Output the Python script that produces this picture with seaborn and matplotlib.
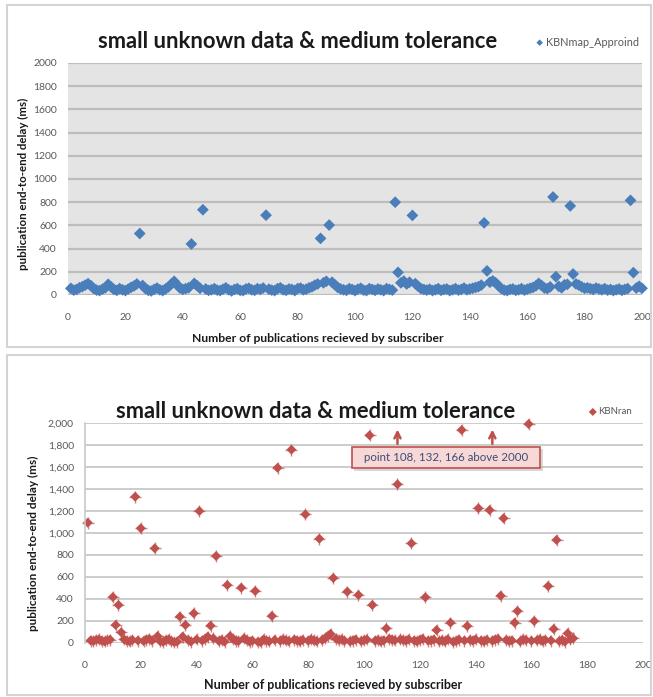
import numpy as np
import pandas as pd
import seaborn as sns
import matplotlib.pyplot as plt
from matplotlib.patches import Rectangle
from matplotlib.ticker import FuncFormatter


chart_title = "small unknown data & medium tolerance"
x_label = "Number of publications recieved by subscriber"
y_label = "publication end-to-end delay (ms)"

# KBNmap_Approind, publications 1..200
approind_delay = [
    57, 42, 48, 63, 72, 85, 98, 80, 55, 42,
    38, 50, 62, 92, 70, 48, 40, 55, 45, 38,
    52, 66, 78, 95, 530, 82, 55, 40, 35, 48,
    60, 45, 38, 52, 70, 95, 118, 88, 60, 48,
    55, 62, 440, 100, 80, 58, 735, 52, 40, 45,
    55, 42, 38, 50, 62, 45, 35, 48, 55, 40,
    38, 52, 58, 45, 40, 55, 48, 60, 688, 50,
    42, 38, 55, 62, 45, 40, 52, 48, 38, 55,
    60, 45, 50, 62, 70, 85, 95, 488, 105, 118,
    603, 110, 88, 65, 52, 45, 40, 55, 48, 38,
    50, 58, 42, 38, 55, 48, 40, 52, 45, 38,
    55, 48, 42, 800, 195, 105, 120, 95, 110, 686,
    98, 75, 55, 48, 42, 50, 38, 45, 55, 40,
    48, 52, 38, 45, 55, 42, 48, 60, 45, 52,
    58, 65, 72, 85, 622, 208, 110, 122, 105, 80,
    55, 42, 38, 48, 52, 40, 45, 55, 42, 50,
    58, 65, 78, 100, 82, 60, 55, 70, 845, 158,
    75, 62, 88, 92, 768, 181, 95, 85, 70, 58,
    62, 55, 48, 60, 52, 45, 55, 42, 48, 38,
    45, 52, 40, 48, 55, 816, 193, 60, 75, 58,
]
approind_x = list(range(1, len(approind_delay) + 1))

# KBNran, publications 1..175
ran_delay = [
    1091, 20, 15, 25, 30, 18, 12, 22, 28, 415,
    161, 343, 94, 30, 18, 12, 25, 1327, 20, 1040,
    15, 28, 35, 20, 858, 60, 12, 8, 22, 30,
    15, 5, 10, 237, 55, 161, 25, 10, 267, 30,
    1197, 20, 35, 55, 155, 40, 788, 15, 25, 10,
    524, 60, 35, 20, 15, 500, 40, 25, 10, 18,
    470, 8, 5, 30, 20, 12, 243, 25, 1590, 18,
    30, 22, 15, 1755, 28, 20, 12, 25, 1167, 18,
    30, 22, 15, 945, 25, 40, 60, 80, 588, 35,
    25, 30, 18, 464, 12, 20, 28, 434, 15, 22,
    30, 1885, 343, 18, 25, 12, 20, 130, 35, 28,
    22, 1440, 30, 25, 18, 30, 903, 20, 12, 25,
    35, 413, 18, 20, 28, 115, 15, 22, 12, 30,
    182, 8, 15, 28, 1934, 20, 152, 25, 18, 30,
    1222, 20, 12, 25, 1206, 18, 28, 35, 427, 1131,
    25, 15, 20, 182, 288, 12, 30, 25, 1988, 18,
    197, 22, 30, 15, 25, 515, 20, 125, 934, 15,
    25, 10, 85, 30, 40,
]
ran_x = list(range(1, len(ran_delay) + 1))

x_ticks = list(range(0, 201, 20))
y_ticks = list(range(0, 2001, 200))

note_text = "point 108, 132, 166 above 2000"
note_arrow_x = [112, 146]

blue = "#4a7ebb"
red = "#c0504d"
tick_grey = "#595959"

sns.set_theme(style="white")
plt.rcParams["font.family"] = ["Lato", "DejaVu Sans"]

W, H = 653, 697
fig = plt.figure(figsize=(W / 100, H / 100), dpi=100)


def fx(px):
    return px / W


def fy(py):
    return 1 - py / H


# chart area borders
for top, bottom in [(5, 347), (355, 695)]:
    fig.add_artist(Rectangle((fx(7), fy(bottom)), fx(651 - 7), (bottom - top) / H,
                             transform=fig.transFigure, fill=False,
                             ec="#d4d4d4", lw=1.5))

# ---------- top chart ----------
ax1 = fig.add_axes([fx(68), fy(295), fx(642 - 68), (295 - 63) / H])
ax1.set_facecolor("#e4e4e4")
ax1.set_axisbelow(True)
ax1.grid(axis="y", color="#bdbdbd", lw=1.6)
ax1.grid(axis="x", visible=False)
for s in ax1.spines.values():
    s.set_visible(False)

sns.scatterplot(x=approind_x, y=approind_delay, marker="D", s=36, color=blue,
                edgecolor="none", ax=ax1, label="KBNmap_Approind", clip_on=False)

ax1.set_xlim(0, 200)
ax1.set_ylim(0, 2000)
ax1.set_xticks(x_ticks)
ax1.set_yticks(y_ticks)
ax1.tick_params(axis="x", length=0, pad=13, labelsize=7.5, labelcolor=tick_grey)
ax1.tick_params(axis="y", length=0, pad=8, labelsize=7.5, labelcolor=tick_grey)
ax1.set_xlabel(x_label, fontsize=8.7, fontweight="bold", color="#1a1a1a")
ax1.set_ylabel(y_label, fontsize=8.3, fontweight="bold", color="#1a1a1a")
ax1.xaxis.set_label_coords(0.435, -0.165)
ax1.yaxis.set_label_coords(-0.068, 0.48)
ax1.legend(loc="center left", bbox_to_anchor=(fx(531), fy(42)),
           bbox_transform=fig.transFigure, frameon=False, fontsize=7.8,
           handlelength=0.6, handletextpad=0.3, markerscale=0.55,
           labelcolor=tick_grey, borderpad=0)
fig.text(fx(298), fy(42), chart_title, ha="center", va="center",
         fontsize=15.8, fontweight="bold", color="#1a1a1a")

# ---------- bottom chart ----------
ax2 = fig.add_axes([fx(85), fy(642.7), fx(643 - 85), (642.7 - 422.7) / H])
ax2.set_facecolor("white")
ax2.set_axisbelow(True)
ax2.grid(axis="y", color="#c8c8c8", lw=1.3)
ax2.grid(axis="x", visible=False)
for s in ax2.spines.values():
    s.set_visible(False)
ax2.spines["left"].set_visible(True)
ax2.spines["left"].set_color("#c8c8c8")
ax2.spines["left"].set_linewidth(1.2)

sns.scatterplot(x=ran_x, y=ran_delay, marker="+", s=64, linewidth=1.0,
                color=red, alpha=0.7, ax=ax2, legend=False, clip_on=False)
sns.scatterplot(x=ran_x, y=ran_delay, marker="D", s=26, color=red,
                edgecolor="none", ax=ax2, label="KBNran", clip_on=False)

ax2.set_xlim(0, 200)
ax2.set_ylim(0, 2000)
ax2.set_xticks(x_ticks)
ax2.set_yticks(y_ticks)
ax2.yaxis.set_major_formatter(FuncFormatter(lambda v, p: f"{int(v):,}"))
ax2.tick_params(axis="x", length=0, pad=13, labelsize=7.5, labelcolor=tick_grey)
ax2.tick_params(axis="y", length=0, pad=8, labelsize=7.5, labelcolor=tick_grey)
ax2.set_xlabel(x_label, fontsize=9, fontweight="bold", color="#1a1a1a")
ax2.set_ylabel(y_label, fontsize=8.5, fontweight="bold", color="#1a1a1a")
ax2.xaxis.set_label_coords(0.445, -0.165)
ax2.yaxis.set_label_coords(-0.082, 0.45)
ax2.legend(loc="center left", bbox_to_anchor=(fx(585), fy(412)),
           bbox_transform=fig.transFigure, frameon=False, fontsize=7,
           handlelength=0.6, handletextpad=0.3, markerscale=0.8,
           labelcolor=tick_grey, borderpad=0)
fig.text(fx(316), fy(411), chart_title, ha="center", va="center",
         fontsize=15.8, fontweight="bold", color="#1a1a1a")

# note box with arrows
ax2.add_patch(Rectangle((96.5, 1560), 67.5, 200, fc="#b0b0b0", ec="none",
                        alpha=0.5, zorder=4))
ax2.add_patch(Rectangle((95.6, 1585), 67.5, 197, fc="#f8d8d7", ec=red,
                        lw=1.2, zorder=5))
ax2.text(129.3, 1680, note_text, ha="center", va="center", fontsize=8.3,
         color="#3a4d75", zorder=6)
for ax_x in note_arrow_x:
    ax2.annotate("", xy=(ax_x, 1964), xytext=(ax_x, 1782),
                 arrowprops=dict(arrowstyle="->", color=red, lw=1.8,
                                 mutation_scale=11), zorder=6)

fig.savefig("out.png", dpi=100)
